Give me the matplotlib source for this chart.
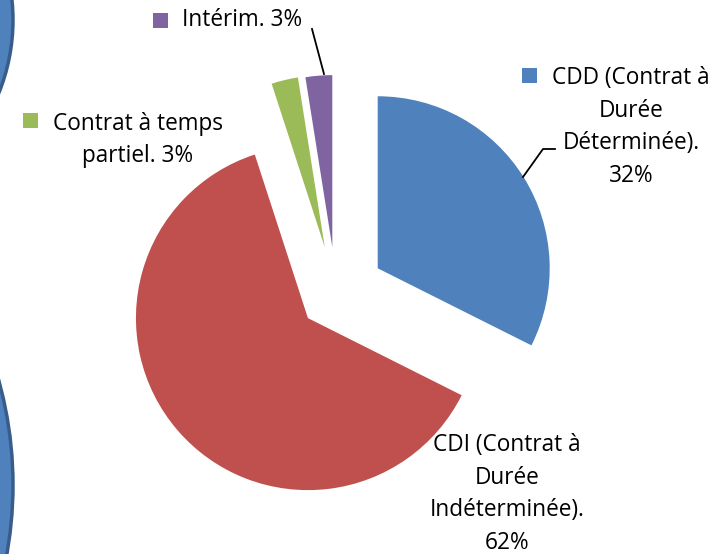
import matplotlib.pyplot as plt
from matplotlib.patches import Rectangle, Ellipse

# Répartition des contrats
labels = ["CDD (Contrat à\nDurée\nDéterminée).\n32%",
          "CDI (Contrat à\nDurée\nIndéterminée).\n62%",
          "Contrat à temps\npartiel. 3%",
          "Intérim. 3%"]
values = [32.4, 62.6, 2.5, 2.5]
colors = ["#4F81BD", "#C0504D", "#9BBB59", "#8064A2"]
explode = [49, 37, 48, 47]

W, H = 718, 554
plt.rcParams['font.family'] = ['Open Sans', 'DejaVu Sans']

fig = plt.figure(figsize=(W / 100, H / 100), dpi=100)
ax = fig.add_axes([0, 0, 1, 1])

ax.pie(values, colors=colors, explode=explode, startangle=90,
       counterclock=False, center=(336, H - 294), radius=172,
       wedgeprops=dict(linewidth=0))

# decoration on the left edge (slide background shapes)
ax.add_patch(Ellipse((-182, H - 20), 390, 390, facecolor="#4F81BD",
                     edgecolor="#385D8A", linewidth=2.5))
ax.add_patch(Ellipse((-378, H - 485), 782, 782, facecolor="#4F81BD",
                     edgecolor="#385D8A", linewidth=2.5))

fs = 16.3
ls = 1.48
# labels
ax.text(631, H - 127, labels[0], ha='center', va='center', fontsize=fs,
        linespacing=ls)
ax.text(507, H - 494, labels[1], ha='center', va='center', fontsize=fs,
        linespacing=ls)
ax.text(138, H - 140, labels[2], ha='center', va='center', fontsize=fs,
        linespacing=ls)
ax.text(182, H - 20, labels[3], ha='left', va='center', fontsize=fs)

# legend keys
for (x, y), c in zip([(522, 68), (23, 113), (153, 13)],
                     [colors[0], colors[2], colors[3]]):
    ax.add_patch(Rectangle((x, H - y - 15), 15, 15, facecolor=c, linewidth=0))

# leader lines
ax.plot([555, 543, 523], [H - 149, H - 149, H - 177], color='black', lw=1.3)
ax.plot([312, 324], [H - 29, H - 74], color='black', lw=1.3)

ax.set_xlim(0, W)
ax.set_ylim(0, H)
ax.set_aspect('equal')
ax.axis('off')

fig.savefig("out.png", dpi=100)
